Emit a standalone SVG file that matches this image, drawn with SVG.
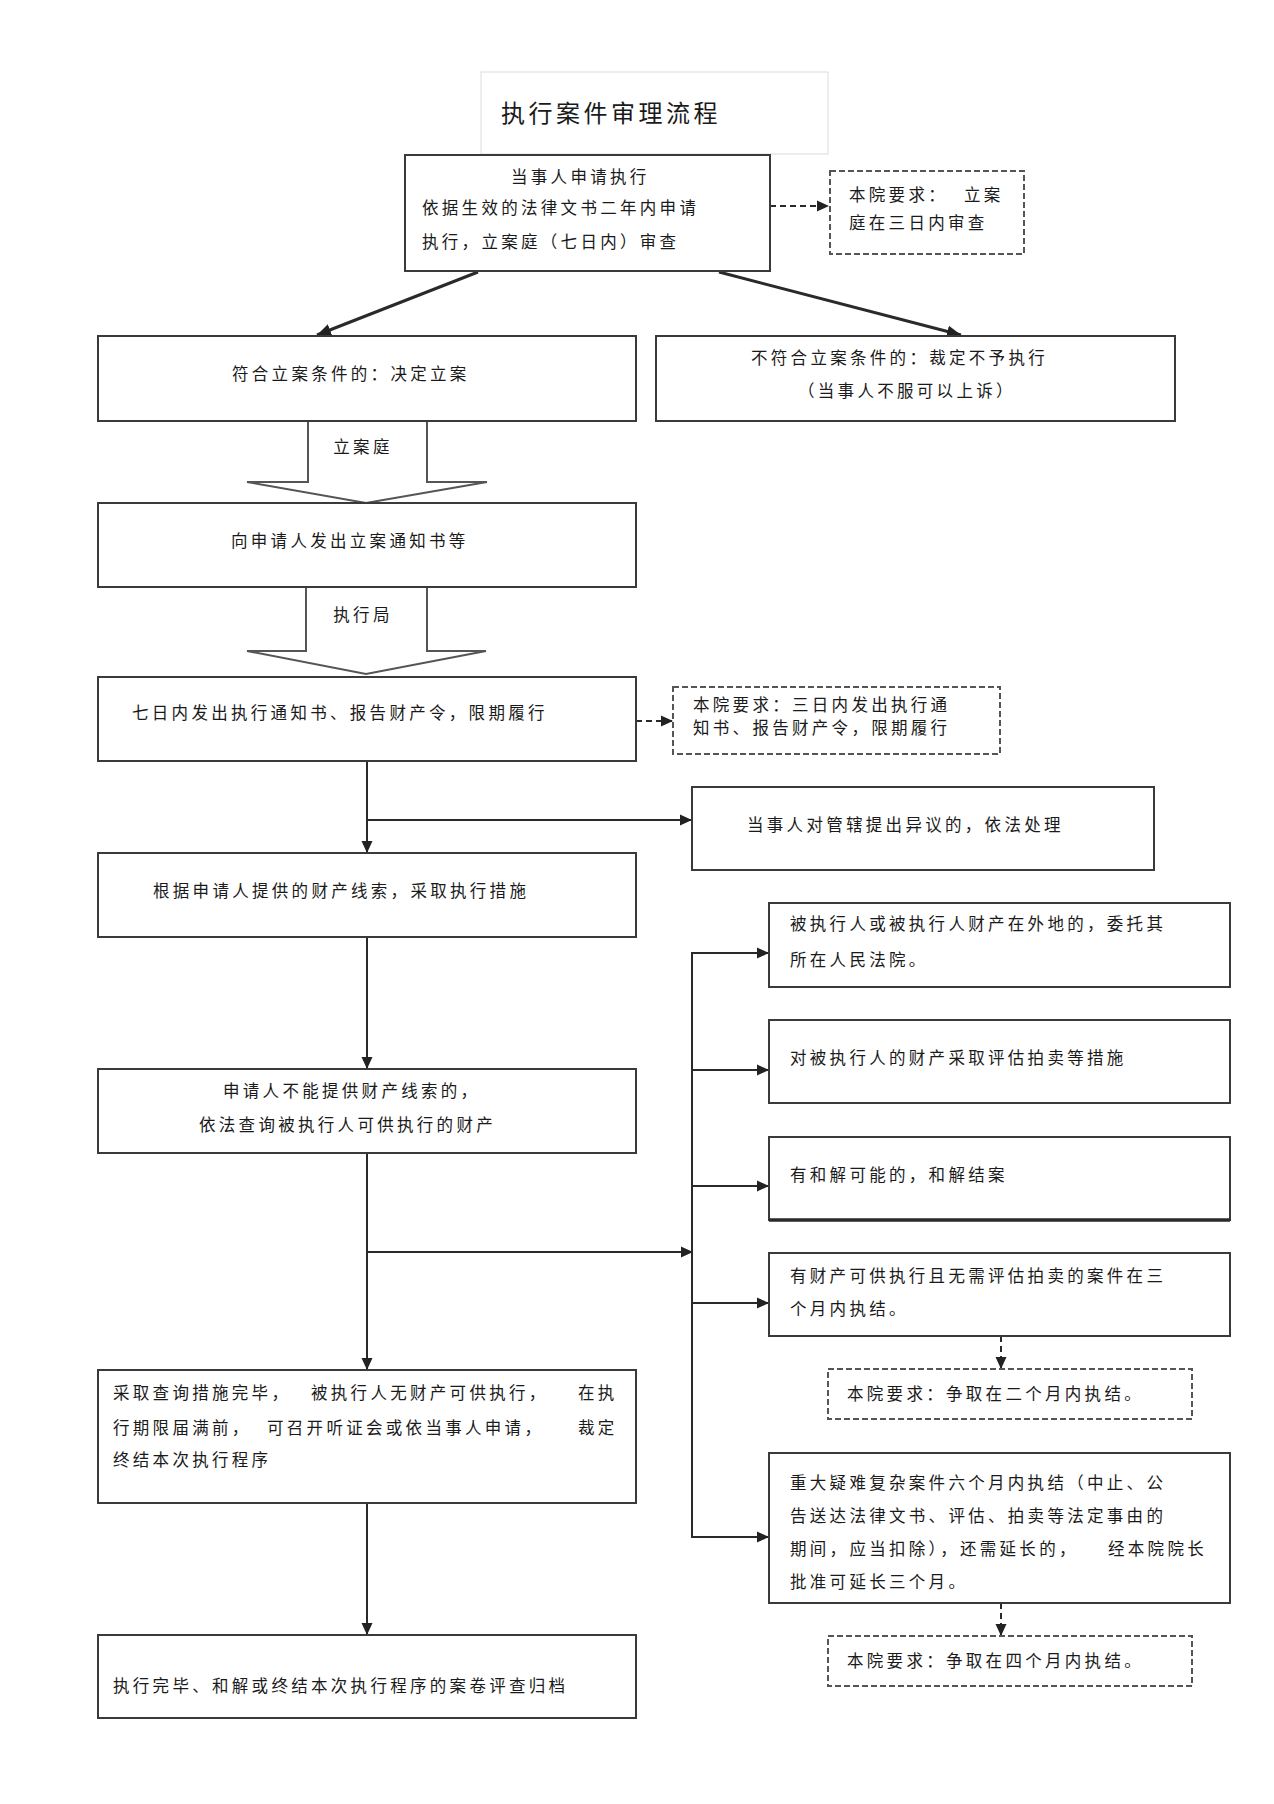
<svg xmlns="http://www.w3.org/2000/svg" width="1274" height="1804" viewBox="0 0 1274 1804">
<style>
  text { font-family: "Liberation Sans", "Noto Sans CJK SC", sans-serif; font-size: 16.5px; letter-spacing: 3.3px; fill: #1a1a1a; }
  .title { font-size: 24px; letter-spacing: 3.5px; }
  .box { fill: #ffffff; stroke: #3a3a3a; stroke-width: 2; }
  .dbox { fill: #ffffff; stroke: #555555; stroke-width: 2; stroke-dasharray: 6 3; }
  .tbox { fill: #ffffff; stroke: #e2e2e2; stroke-width: 1.2; }
  .ln { fill: none; stroke: #2a2a2a; stroke-width: 2; }
  .thick { fill: none; stroke: #2a2a2a; stroke-width: 3; }
  .dash { fill: none; stroke: #2a2a2a; stroke-width: 2; stroke-dasharray: 6 4; }
  .block { fill: #ffffff; stroke: #555555; stroke-width: 2; stroke-linejoin: miter; }
  .mid { text-anchor: middle; }
</style>
<defs>
  <marker id="ah" viewBox="0 0 12 12" refX="12" refY="6" markerWidth="12" markerHeight="12" orient="auto" markerUnits="userSpaceOnUse">
    <path d="M0,0.5 L12,6 L0,11.5 Z" fill="#222222"/>
  </marker>
  <marker id="ahb" viewBox="0 0 14 14" refX="14" refY="7" markerWidth="14" markerHeight="14" orient="auto" markerUnits="userSpaceOnUse">
    <path d="M0,1 L14,7 L0,13 Z" fill="#222222"/>
  </marker>
</defs>
<rect width="1274" height="1804" fill="#ffffff"/>

<g id="title">
  <rect class="tbox" x="481" y="72" width="347" height="82"/>
  <text class="title" x="501" y="122">执行案件审理流程</text>
</g>

<g id="connectors">
  <line class="dash" x1="770" y1="206" x2="829" y2="206" marker-end="url(#ah)"/>
  <line class="thick" x1="478" y1="272" x2="317" y2="335" marker-end="url(#ahb)"/>
  <line class="thick" x1="719" y1="272" x2="961" y2="335" marker-end="url(#ahb)"/>
  <polyline class="block" points="308,421 308,482 247,482 366,503 487,482 427,482 427,421"/>
  <polyline class="block" points="306,587 306,651 247,651 366,674 486,651 427,651 427,587"/>
  <line class="dash" x1="636" y1="721" x2="673" y2="721" marker-end="url(#ah)"/>
  <line class="ln" x1="367" y1="761" x2="367" y2="853" marker-end="url(#ah)"/>
  <line class="ln" x1="367" y1="820" x2="692" y2="820" marker-end="url(#ah)"/>
  <line class="ln" x1="367" y1="937" x2="367" y2="1069" marker-end="url(#ah)"/>
  <line class="ln" x1="367" y1="1153" x2="367" y2="1370" marker-end="url(#ah)"/>
  <line class="ln" x1="367" y1="1252" x2="693" y2="1252" marker-end="url(#ah)"/>
  <line class="ln" x1="367" y1="1503" x2="367" y2="1635" marker-end="url(#ah)"/>
  <line class="ln" x1="692" y1="953" x2="692" y2="1537"/>
  <line class="ln" x1="691" y1="953" x2="769" y2="953" marker-end="url(#ah)"/>
  <line class="ln" x1="691" y1="1070" x2="769" y2="1070" marker-end="url(#ah)"/>
  <line class="ln" x1="691" y1="1186" x2="769" y2="1186" marker-end="url(#ah)"/>
  <line class="ln" x1="691" y1="1303" x2="769" y2="1303" marker-end="url(#ah)"/>
  <line class="ln" x1="691" y1="1537" x2="769" y2="1537" marker-end="url(#ah)"/>
  <line class="dash" x1="1001" y1="1336" x2="1001" y2="1369" marker-end="url(#ah)"/>
  <line class="dash" x1="1001" y1="1603" x2="1001" y2="1636" marker-end="url(#ah)"/>
</g>

<g id="label-lian">
  <text class="mid" x="363" y="453">立案庭</text>
</g>
<g id="label-zhixingju">
  <text class="mid" x="363" y="621">执行局</text>
</g>

<g id="n-apply">
  <rect class="box" x="405" y="155" width="365" height="116"/>
  <text x="511" y="183">当事人申请执行</text>
  <text x="422" y="214">依据生效的法律文书二年内申请</text>
  <text x="422" y="248">执行，立案庭（七日内）审查</text>
</g>

<g id="n-req1">
  <rect class="dbox" x="830" y="171" width="194" height="83"/>
  <text x="849" y="201">本院要求：</text>
  <text x="964" y="201">立案</text>
  <text x="849" y="229">庭在三日内审查</text>
</g>

<g id="n-accept">
  <rect class="box" x="98" y="336" width="538" height="85"/>
  <text x="232" y="380">符合立案条件的：决定立案</text>
</g>

<g id="n-reject">
  <rect class="box" x="656" y="336" width="519" height="85"/>
  <text x="751" y="364">不符合立案条件的：裁定不予执行</text>
  <text x="798" y="397">（当事人不服可以上诉）</text>
</g>

<g id="n-notice">
  <rect class="box" x="98" y="503" width="538" height="84"/>
  <text x="231" y="547">向申请人发出立案通知书等</text>
</g>

<g id="n-exec-notice">
  <rect class="box" x="98" y="677" width="538" height="84"/>
  <text x="132" y="719">七日内发出执行通知书、报告财产令，限期履行</text>
</g>

<g id="n-req2">
  <rect class="dbox" x="673" y="687" width="327" height="67"/>
  <text x="693" y="711">本院要求：三日内发出执行通</text>
  <text x="693" y="734">知书、报告财产令，限期履行</text>
</g>

<g id="n-objection">
  <rect class="box" x="692" y="787" width="462" height="83"/>
  <text x="747" y="831">当事人对管辖提出异议的，依法处理</text>
</g>

<g id="n-measures">
  <rect class="box" x="98" y="853" width="538" height="84"/>
  <text x="153" y="897">根据申请人提供的财产线索，采取执行措施</text>
</g>

<g id="n-query">
  <rect class="box" x="98" y="1069" width="538" height="84"/>
  <text x="223" y="1097">申请人不能提供财产线索的，</text>
  <text x="199" y="1131">依法查询被执行人可供执行的财产</text>
</g>

<g id="n-terminate">
  <rect class="box" x="98" y="1370" width="538" height="133"/>
  <text x="113" y="1399">采取查询措施完毕，</text>
  <text x="311" y="1399">被执行人无财产可供执行，</text>
  <text x="578" y="1399">在执</text>
  <text x="113" y="1434">行期限届满前，</text>
  <text x="267" y="1434">可召开听证会或依当事人申请，</text>
  <text x="578" y="1434">裁定</text>
  <text x="113" y="1466">终结本次执行程序</text>
</g>

<g id="n-archive">
  <rect class="box" x="98" y="1635" width="538" height="83"/>
  <text x="113" y="1692">执行完毕、和解或终结本次执行程序的案卷评查归档</text>
</g>

<g id="n-entrust">
  <rect class="box" x="769" y="903" width="461" height="84"/>
  <text x="790" y="930">被执行人或被执行人财产在外地的，委托其</text>
  <text x="790" y="966">所在人民法院。</text>
</g>

<g id="n-auction">
  <rect class="box" x="769" y="1020" width="461" height="83"/>
  <text x="790" y="1064">对被执行人的财产采取评估拍卖等措施</text>
</g>

<g id="n-settle">
  <rect class="box" x="769" y="1137" width="461" height="83"/>
  <line x1="769" y1="1220" x2="1230" y2="1220" stroke="#2a2a2a" stroke-width="3.5"/>
  <text x="790" y="1181">有和解可能的，和解结案</text>
</g>

<g id="n-three-months">
  <rect class="box" x="769" y="1253" width="461" height="83"/>
  <text x="790" y="1282">有财产可供执行且无需评估拍卖的案件在三</text>
  <text x="790" y="1315">个月内执结。</text>
</g>

<g id="n-req3">
  <rect class="dbox" x="828" y="1369" width="364" height="50"/>
  <text x="847" y="1400">本院要求：争取在二个月内执结。</text>
</g>

<g id="n-six-months">
  <rect class="box" x="769" y="1453" width="461" height="150"/>
  <text x="790" y="1489">重大疑难复杂案件六个月内执结（中止、公</text>
  <text x="790" y="1522">告送达法律文书、评估、拍卖等法定事由的</text>
  <text x="790" y="1555">期间，应当扣除），还需延长的，</text>
  <text x="1108" y="1555">经本院院长</text>
  <text x="790" y="1588">批准可延长三个月。</text>
</g>

<g id="n-req4">
  <rect class="dbox" x="828" y="1636" width="364" height="50"/>
  <text x="847" y="1667">本院要求：争取在四个月内执结。</text>
</g>
</svg>
